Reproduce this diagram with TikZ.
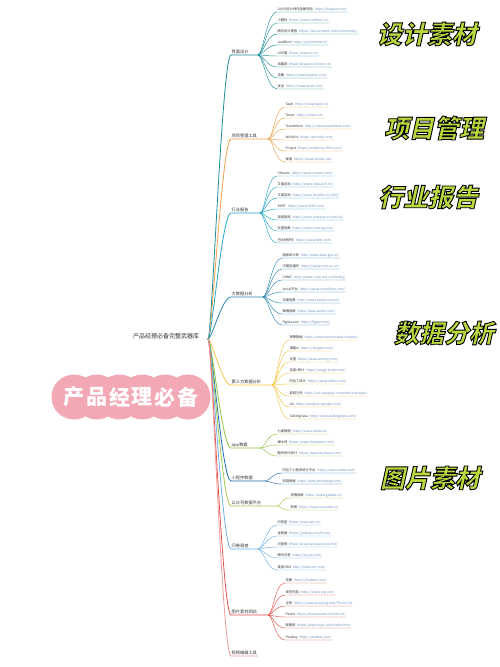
\documentclass[tikz,border=0pt]{standalone}
\usepackage{fontspec}
\setmainfont{Noto Sans CJK SC}
\newfontfamily\bigfont[FakeSlant=0.22]{Noto Sans CJK SC}
\usetikzlibrary{calc}
\definecolor{c1}{HTML}{1E8C99}
\definecolor{c2}{HTML}{F0A04B}
\definecolor{c3}{HTML}{22A7C8}
\definecolor{c4}{HTML}{2B86B0}
\definecolor{c5}{HTML}{F2C744}
\definecolor{c6}{HTML}{8DC63F}
\definecolor{c7}{HTML}{1F6FB2}
\definecolor{c8}{HTML}{A5C94A}
\definecolor{c9}{HTML}{6BB3E8}
\definecolor{c10}{HTML}{E0524E}
\definecolor{c11}{HTML}{F09A9A}
\definecolor{kidname}{HTML}{333333}
\definecolor{kidurl}{HTML}{6C8EBF}
\definecolor{pinkc}{HTML}{F3A8B5}
\definecolor{limec}{HTML}{B9D83E}
\newcommand\kid[7]{%
  \node[kidnode, anchor=south west] (#1) at (#3,#4) {\textcolor{kidname}{#5}\hspace{2pt}\textcolor{kidurl}{#6}};
  \draw[#7, kidline] (#2) .. controls ($(#2)+(5,0)$) and ($(#1.south west)+(-10,0)$) .. (#1.south west) -- (#1.south east);
}
\newcommand\branch[5]{%
  \node[branchnode, anchor=south west] (#1) at (231,#3) {#2};
  \coordinate (#1h) at (#4,#3);
  \draw[#5, branchline] (rh) .. controls ($(rh)+(4,0)$) and ($(#1.south west)+(-9,0)$) .. (#1.south west) -- (#1h);
}
\newcommand\biglabel[4]{%
  \node[biglab] (#1) at (#2,#3) {\color{limec}\special{pdf:literal direct 2 Tr 0 0 0 RG 0.9 w}#4\special{pdf:literal direct 0 Tr}};
}
\begin{document}
\begin{tikzpicture}[x=1pt,y=-1pt,
  kidnode/.style={inner xsep=0.3pt, inner ysep=0.7pt, font=\fontsize{3.3}{4}\selectfont},
  kidline/.style={line width=0.45pt, line cap=round},
  branchnode/.style={inner xsep=0.5pt, inner ysep=0.8pt, font=\fontsize{4.2}{5}\selectfont, text=black!80},
  branchline/.style={line width=0.8pt, line cap=round},
  rootnode/.style={inner sep=0.8pt, font=\fontsize{6}{7}\selectfont, text=black!80},
  biglab/.style={inner sep=0pt, font=\bigfont\bfseries\fontsize{25}{28}\selectfont},
  pinkchar/.style={inner sep=0pt, text=white, font=\bfseries\fontsize{21}{24}\selectfont}]
\useasboundingbox (0,0) rectangle (500,667);
\fill[white] (0,0) rectangle (500,667);

% root
\node[rootnode, anchor=south east] (root) at (200,340) {产品经理必备完整武器库};
\coordinate (rh) at (208,339);

% branch 1
\branch{b1}{界面设计}{55}{258}{c1}
\kid{b1k1}{b1h}{277}{12}{UI/UE设计师作品集网站}{https://huaban.com/}{c1}
\kid{b1k2}{b1h}{277}{23}{小图标}{https://www.iconfont.cn/}{c1}
\kid{b1k3}{b1h}{277}{34}{腾讯设计博客}{https://isux.tencent.com/community/}{c1}
\kid{b1k4}{b1h}{277}{45}{JustMind}{https://justinmind.cn/}{c1}
\kid{b1k5}{b1h}{277}{56}{UI中国}{https://www.ui.cn/}{c1}
\kid{b1k6}{b1h}{277}{67}{站酷网}{https://www.zcool.com.cn/}{c1}
\kid{b1k7}{b1h}{277}{78}{花瓣}{https://www.huaban.com/}{c1}
\kid{b1k8}{b1h}{277}{89}{优设}{https://www.uisdc.com/}{c1}

% branch 2
\branch{b2}{项目管理工具}{139}{268}{c2}
\kid{b2k1}{b2h}{285}{107}{Tapd}{https://www.tapd.cn/}{c2}
\kid{b2k2}{b2h}{285}{118}{Tower}{https://tower.im/}{c2}
\kid{b2k3}{b2h}{285}{129}{Teambition}{https://www.teambition.com/}{c2}
\kid{b2k4}{b2h}{285}{140}{Worktile}{https://worktile.com/}{c2}
\kid{b2k5}{b2h}{285}{151}{Project}{https://products.office.com/}{c2}
\kid{b2k6}{b2h}{285}{162}{禅道}{https://www.zentao.net/}{c2}

% branch 3
\branch{b3}{行业报告}{213}{260}{c3}
\kid{b3k1}{b3h}{277}{176}{CNnavis}{https://www.cnnavis.com/}{c3}
\kid{b3k2}{b3h}{277}{187}{艾瑞咨询}{https://www.iresearch.cn/}{c3}
\kid{b3k3}{b3h}{277}{198}{艾媒咨询}{https://www.iimedia.cn/c400/}{c3}
\kid{b3k4}{b3h}{277}{209}{199IT}{https://www.199it.com/}{c3}
\kid{b3k5}{b3h}{277}{220}{易观智库}{https://www.analysys.cn/article/}{c3}
\kid{b3k6}{b3h}{277}{231}{友盟指数}{https://index.umeng.com/}{c3}
\kid{b3k7}{b3h}{277}{243}{巴比特研究}{https://www.8btc.com/}{c3}

% branch 4
\branch{b4}{大数据分析}{297}{263}{c4}
\kid{b4k1}{b4h}{282}{258}{国家统计局}{http://www.stats.gov.cn/}{c4}
\kid{b4k2}{b4h}{282}{269}{中国信通院}{https://www.caict.ac.cn/}{c4}
\kid{b4k3}{b4h}{282}{280}{CNNIC}{http://www.cnnic.net.cn/hlwfzyj/}{c4}
\kid{b4k4}{b4h}{282}{292}{social平台}{https://www.socialbeta.com/}{c4}
\kid{b4k5}{b4h}{282}{303}{百度指数}{http://index.baidu.com/v2/}{c4}
\kid{b4k6}{b4h}{282}{314}{微博指数}{https://data.weibo.com/}{c4}
\kid{b4k7}{b4h}{282}{325}{Figma.ano}{https://figma.com/}{c4}

% branch 5
\branch{b5}{第三方数据分析}{385}{272}{c5}
\kid{b5k1}{b5h}{289}{340}{神策数据}{https://www.sensorsdata.cn/auto/}{c5}
\kid{b5k2}{b5h}{289}{351}{诸葛io}{https://zhugeio.com/}{c5}
\kid{b5k3}{b5h}{289}{362}{友盟}{https://www.umeng.com/}{c5}
\kid{b5k4}{b5h}{289}{373}{百度+统计}{https://tongji.baidu.com/}{c5}
\kid{b5k5}{b5h}{289}{384}{阿拉丁统计}{https://www.aldwx.com/}{c5}
\kid{b5k6}{b5h}{289}{396}{易观方舟}{https://ark.analysys.cn/product/analysis}{c5}
\kid{b5k7}{b5h}{289}{407}{GA}{https://analytics.google.com/}{c5}
\kid{b5k8}{b5h}{289}{419}{TalkingData}{https://www.talkingdata.com/}{c5}

% branch 6
\branch{b6}{app数据}{448}{260}{c6}
\kid{b6k1}{b6h}{277}{434}{七麦数据}{https://www.qimai.cn/}{c6}
\kid{b6k2}{b6h}{277}{445}{蝉大师}{https://www.chandashi.com/}{c6}
\kid{b6k3}{b6h}{277}{456}{酷传排行统计}{https://www.kuchuan.com/}{c6}

% branch 7
\branch{b7}{小程序数据}{481}{265}{c7}
\kid{b7k1}{b7h}{282}{473}{阿拉丁小程序统计平台}{https://www.aldwx.com/}{c7}
\kid{b7k2}{b7h}{282}{484}{知晓数据}{https://data.zhishuapp.com/}{c7}

% branch 8
\branch{b8}{公众号数据平台}{506}{277}{c8}
\kid{b8k1}{b8h}{290}{498}{清博指数}{https://www.gsdata.cn/}{c8}
\kid{b8k2}{b8h}{290}{510}{新榜}{https://www.newrank.cn/}{c8}

% branch 9
\branch{b9}{问卷调查}{549}{258}{c9}
\kid{b9k1}{b9h}{277}{525}{问卷星}{https://www.wjx.cn/}{c9}
\kid{b9k2}{b9h}{277}{536}{金数据}{https://jinshuju.net/forms/}{c9}
\kid{b9k3}{b9h}{277}{547}{问卷网}{https://www.wenjuan.com/list/}{c9}
\kid{b9k4}{b9h}{277}{558}{腾讯问卷}{https://wj.qq.com/}{c9}
\kid{b9k5}{b9h}{277}{570}{麦客CRM}{http://mikecrm.com/}{c9}

% branch 10
\branch{b10}{图片素材网站}{615}{268}{c10}
\kid{b10k1}{b10h}{285}{583}{花瓣}{https://huaban.com/}{c10}
\kid{b10k2}{b10h}{285}{595}{视觉中国}{https://www.vcg.com/}{c10}
\kid{b10k3}{b10h}{285}{606}{全景}{https://www.quanjing.com/?from=CN}{c10}
\kid{b10k4}{b10h}{285}{617}{Pexels}{https://www.pexels.com/zh-cn/}{c10}
\kid{b10k5}{b10h}{285}{628}{昵图网}{https://www.nipic.com/index.html}{c10}
\kid{b10k6}{b10h}{285}{640}{Pixabay}{https://pixabay.com/}{c10}

% branch 11
\node[branchnode, anchor=south west] (b11) at (231,656) {视频编辑工具};
\draw[c11, branchline] (rh) .. controls ($(rh)+(4,0)$) and ($(b11.south west)+(-9,0)$) .. (b11.south west) -- (b11.south east);

% pink bubble
\fill[pinkc] (74,385) rectangle (188,409);
\foreach \i in {0,...,5} {\fill[pinkc] (74+22.8*\i,397) circle (22.5);}
\node[pinkchar] (p1) at (74,397) {产};
\node[pinkchar] (p2) at (96.8,397) {品};
\node[pinkchar] (p3) at (119.6,397) {经};
\node[pinkchar] (p4) at (142.4,397) {理};
\node[pinkchar] (p5) at (165.2,397) {必};
\node[pinkchar] (p6) at (188,397) {备};

% big labels
\biglabel{t1}{427}{34}{设计素材}
\biglabel{t2}{434}{128}{项目管理}
\biglabel{t3}{428}{197}{行业报告}
\biglabel{t4}{444}{333}{数据分析}
\biglabel{t5}{430}{478}{图片素材}
\end{tikzpicture}
\end{document}
